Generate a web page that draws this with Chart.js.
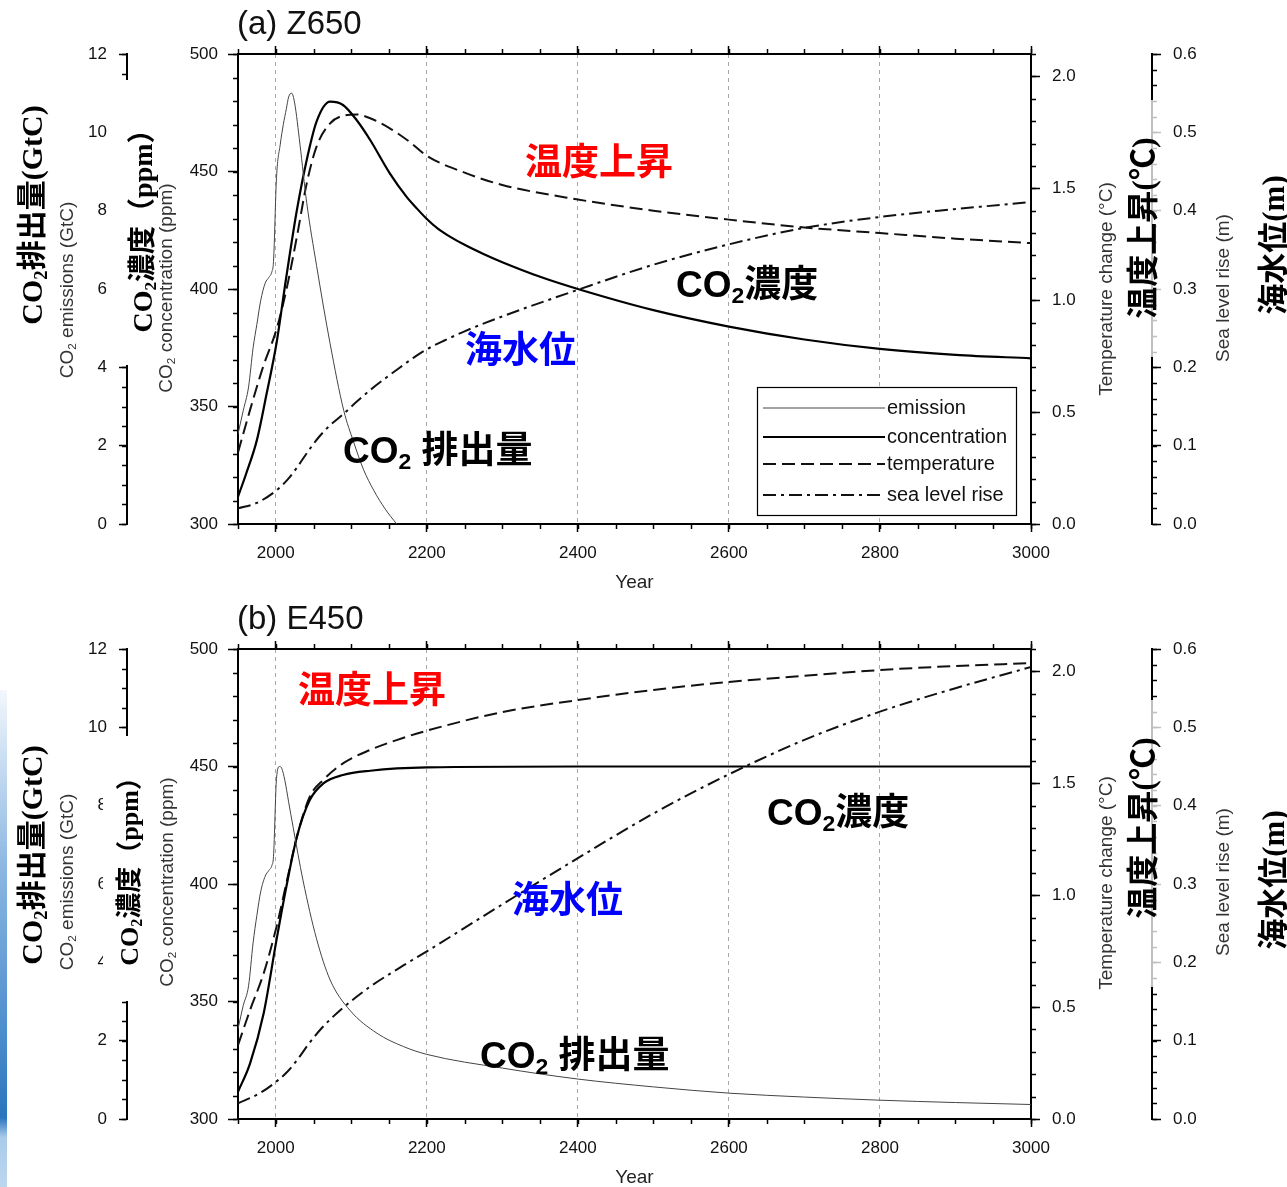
<!DOCTYPE html>
<html lang="ja">
<head>
<meta charset="UTF-8">
<title>Z650 / E450</title>
<script src="https://cdn.jsdelivr.net/npm/chart.js"></script>
<style>
  body { margin: 0; background: #fff; overflow: hidden; font-family: 'Liberation Sans', Arial, sans-serif; }
  #page { position: relative; width: 1287px; height: 1187px; overflow: hidden; }
  canvas { position: absolute; left: 0; }
  .rot { position: absolute; white-space: nowrap; line-height: 1; transform: translate(-50%, -50%) rotate(-90deg); }
  .big { font-family: 'Liberation Serif', 'Noto Sans CJK JP', serif; font-weight: bold; color: #000; }
  .big .g { font-family: 'Noto Sans CJK JP', sans-serif; }
  .small { font-size: 19px; color: #333; }
  .mask { position: absolute; background: #fff; }
  .note { position: absolute; white-space: nowrap; line-height: 1; transform: translateY(-50%);
          font-family: 'Liberation Sans', 'Noto Sans CJK JP', sans-serif; font-weight: bold; font-size: 37px; }
  .title { position: absolute; left: 237px; font-size: 33px; line-height: 1; transform: translateY(-50%); color: #111; }
  sub { font-size: 0.62em; vertical-align: -0.28em; line-height: 0; }
  .strip { position: absolute; left: 0; top: 690px; width: 7px; height: 497px;
           background: linear-gradient(to bottom, rgba(190,215,240,0.2), #8db8e2 35%, #4a8ccc 70%, #2a74bd 86%, #a9cbea 90%, #bcd6ee 100%); }
</style>
</head>
<body>
<div id="page">
  <canvas id="chartA" width="1287" height="595" style="top:0"></canvas>
  <canvas id="chartB" width="1287" height="595" style="top:595px"></canvas>

  <div class="strip"></div>

  <!-- (a) -->
  <div class="title" style="top:22px">(a) Z650</div>
  <div class="mask" style="left:116px;top:80px;width:40px;height:285px"></div>
  <div class="mask" style="left:1124px;top:100px;width:38px;height:257px;background:rgba(255,255,255,0.75)"></div>
  <div class="rot big" style="left:30px;top:215px;font-size:30px">CO<sub>2</sub><span class="g">排出量</span>(GtC)</div>
  <div class="rot small" style="left:66px;top:290px">CO<sub>2</sub> emissions (GtC)</div>
  <div class="rot big" style="left:141px;top:224px;font-size:28px">CO<sub>2</sub><span class="g">濃度（</span>ppm<span class="g">）</span></div>
  <div class="rot small" style="left:165px;top:288px">CO<sub>2</sub> concentration (ppm)</div>
  <div class="rot small" style="left:1105px;top:289px">Temperature change (°C)</div>
  <div class="rot big" style="left:1141px;top:228px;font-size:32px"><span class="g">温度上昇</span>(<span class="g">℃</span>)</div>
  <div class="rot small" style="left:1222px;top:288px">Sea level rise (m)</div>
  <div class="rot big" style="left:1272px;top:245px;font-size:31px"><span class="g">海水位</span>(m)</div>
  <div class="note" style="left:525px;top:162px;color:#f00">温度上昇</div>
  <div class="note" style="left:676px;top:284px">CO<sub>2</sub>濃度</div>
  <div class="note" style="left:465px;top:350px;color:#00f">海水位</div>
  <div class="note" style="left:343px;top:450px">CO<sub>2</sub> 排出量</div>

  <!-- (b) -->
  <div class="title" style="top:617px">(b) E450</div>
  <div class="mask" style="left:103px;top:736px;width:53px;height:265px"></div>
  <div class="mask" style="left:1124px;top:700px;width:38px;height:287px;background:rgba(255,255,255,0.75)"></div>
  <div class="rot big" style="left:30px;top:855px;font-size:30px">CO<sub>2</sub><span class="g">排出量</span>(GtC)</div>
  <div class="rot small" style="left:66px;top:882px">CO<sub>2</sub> emissions (GtC)</div>
  <div class="rot big" style="left:128px;top:865px;font-size:26px">CO<sub>2</sub><span class="g">濃度（</span>ppm<span class="g">）</span></div>
  <div class="rot small" style="left:166px;top:882px">CO<sub>2</sub> concentration (ppm)</div>
  <div class="rot small" style="left:1105px;top:883px">Temperature change (°C)</div>
  <div class="rot big" style="left:1141px;top:828px;font-size:32px"><span class="g">温度上昇</span>(<span class="g">℃</span>)</div>
  <div class="rot small" style="left:1222px;top:882px">Sea level rise (m)</div>
  <div class="rot big" style="left:1272px;top:880px;font-size:31px"><span class="g">海水位</span>(m)</div>
  <div class="note" style="left:298px;top:690px;color:#f00">温度上昇</div>
  <div class="note" style="left:767px;top:812px">CO<sub>2</sub>濃度</div>
  <div class="note" style="left:512px;top:900px;color:#00f">海水位</div>
  <div class="note" style="left:480px;top:1055px">CO<sub>2</sub> 排出量</div>
</div>

<script>
// axis ticks
const yearTicks = [2000, 2200, 2400, 2600, 2800, 3000];
const concTicks = [300, 350, 400, 450, 500];
const emisTicks = [0, 2, 4, 6, 8, 10, 12];
const tempTicks = [0, 0.5, 1.0, 1.5, 2.0];
const seaTicks = [0, 0.1, 0.2, 0.3, 0.4, 0.5, 0.6];

// (a) Z650
const zEmisYear = [1950, 1957, 1964, 1970, 1975, 1980, 1986, 1991, 1995, 1997, 2001, 2006, 2010, 2014, 2017, 2021, 2025, 2032, 2041, 2054, 2072, 2090, 2103, 2116, 2130, 2145, 2160];
const zEmisVal  = [2.3, 2.9, 3.5, 4.5, 5.1, 5.7, 6.15, 6.3, 6.45, 6.7, 8.85, 9.7, 10.2, 10.6, 10.9, 11.0, 10.75, 9.7, 8.2, 6.6, 4.6, 2.9, 2.1, 1.4, 0.85, 0.38, 0.0];
const zConcYear = [1950, 1961, 1975, 1988, 2001, 2014, 2028, 2041, 2054, 2072, 2089, 2107, 2125, 2151, 2173, 2187, 2200, 2215, 2230, 2250, 2275, 2300, 2350, 2400, 2500, 2600, 2700, 2800, 2900, 3000];
const zConcVal  = [311.6, 321.6, 335.7, 355.6, 376.9, 405.2, 433.6, 454.9, 471.2, 479.7, 478.3, 471.9, 463.4, 449.2, 439.3, 434.2, 429.8, 425.6, 422.4, 418.8, 414.9, 411.4, 405.2, 400, 391, 384, 378.5, 374.5, 372, 370.5];
const zTempYear = [1950, 1966, 1983, 2001, 2014, 2028, 2041, 2054, 2072, 2089, 2107, 2125, 2151, 2177, 2200, 2250, 2300, 2400, 2500, 2600, 2700, 2800, 2900, 3000];
const zTempVal  = [0.32, 0.51, 0.70, 0.87, 1.045, 1.284, 1.522, 1.686, 1.79, 1.824, 1.83, 1.813, 1.768, 1.708, 1.645, 1.57, 1.515, 1.45, 1.40, 1.36, 1.325, 1.30, 1.275, 1.255];
const zSeaYear  = [1950, 1975, 2001, 2015, 2028, 2043, 2058, 2073, 2089, 2107, 2125, 2169, 2185, 2200, 2225, 2250, 2300, 2400, 2500, 2600, 2700, 2800, 2900, 3000];
const zSeaVal   = [0.020, 0.027, 0.043, 0.056, 0.072, 0.093, 0.112, 0.127, 0.140, 0.156, 0.171, 0.203, 0.214, 0.223, 0.235, 0.246, 0.265, 0.299, 0.331, 0.357, 0.378, 0.392, 0.402, 0.411];

// (b) E450
const eEmisYear = [1950, 1957, 1964, 1970, 1975, 1980, 1986, 1991, 1995, 1997, 2001, 2005, 2008, 2012, 2017, 2023, 2036, 2054, 2072, 2098, 2134, 2169, 2200, 2300, 2400, 2500, 2600, 2700, 2800, 2900, 3000];
const eEmisVal  = [2.3, 2.9, 3.4, 4.5, 5.2, 5.8, 6.2, 6.35, 6.48, 6.7, 8.7, 9.0, 8.95, 8.65, 8.1, 7.45, 6.1, 4.6, 3.55, 2.78, 2.19, 1.85, 1.65, 1.30, 1.02, 0.82, 0.66, 0.56, 0.48, 0.42, 0.37];
const eConcYear = [1950, 1966, 1984, 2001, 2014, 2028, 2045, 2063, 2089, 2125, 2200, 2400, 2600, 2800, 3000];
const eConcVal  = [311.6, 323.7, 345, 376.2, 398.8, 420.1, 435.7, 442.8, 446.4, 448.2, 449.6, 450, 450, 450, 450];
const eTempYear = [1950, 1966, 1984, 2001, 2014, 2028, 2045, 2063, 2089, 2125, 2160, 2200, 2300, 2400, 2500, 2600, 2700, 2800, 2900, 3000];
const eTempVal  = [0.33, 0.487, 0.651, 0.859, 1.053, 1.261, 1.44, 1.515, 1.589, 1.649, 1.693, 1.735, 1.818, 1.872, 1.917, 1.953, 1.98, 2.006, 2.024, 2.037];
const eSeaYear  = [1950, 1979, 2001, 2015, 2028, 2043, 2058, 2073, 2089, 2107, 2125, 2169, 2200, 2250, 2300, 2400, 2500, 2600, 2700, 2800, 2900, 3000];
const eSeaVal   = [0.020, 0.033, 0.048, 0.060, 0.075, 0.095, 0.113, 0.128, 0.142, 0.156, 0.169, 0.196, 0.214, 0.244, 0.274, 0.333, 0.390, 0.440, 0.484, 0.520, 0.550, 0.577];

const legendNames = ['emission', 'concentration', 'temperature', 'sea level rise'];

Chart.defaults.font.family = "'Liberation Sans', Arial, sans-serif";
Chart.defaults.color = '#111';

const tickFont = { size: 17 };

function pts(xs, ys) {
    return xs.map((x, i) => ({ x: x, y: ys[i] }));
}
function fixW(w) { return s => { s.width = w; }; }
function fixH(h) { return s => { s.height = h; }; }
function setTicks(arr) { return s => { s.ticks = arr.map(v => ({ value: v })); }; }

// 작은 눈금 (minor ticks)
const minorTicks = {
    id: 'minorTicks',
    afterDraw(chart, args, opts) {
        const ctx = chart.ctx;
        ctx.save();
        ctx.strokeStyle = '#000';
        ctx.lineWidth = 1.5;
        for (const id in opts.scales) {
            const s = chart.scales[id];
            const m = opts.scales[id];
            const n = Math.round((s.max - s.min) / m.step);
            for (let i = 0; i <= n; i++) {
                const p = Math.round(s.getPixelForValue(s.min + i * m.step)) + 0.5;
                ctx.beginPath();
                if (s.position === 'left') { ctx.moveTo(s.right, p); ctx.lineTo(s.right - m.len, p); }
                else if (s.position === 'right') { ctx.moveTo(s.left, p); ctx.lineTo(s.left + m.len, p); }
                else if (s.position === 'bottom') { ctx.moveTo(p, s.top); ctx.lineTo(p, s.top + m.len); }
                else { ctx.moveTo(p, s.bottom); ctx.lineTo(p, s.bottom - m.len); }
                ctx.stroke();
            }
        }
        ctx.restore();
    }
};

// 범례 상자
const boxLegend = {
    id: 'boxLegend',
    afterDatasetsDraw(chart, args, opts) {
        if (!opts.show) return;
        const ctx = chart.ctx;
        const a = chart.chartArea;
        const x0 = a.left + 519, y0 = a.top + 333;
        ctx.save();
        ctx.fillStyle = '#fff';
        ctx.fillRect(x0, y0, 259, 128);
        ctx.strokeStyle = '#000';
        ctx.lineWidth = 1.2;
        ctx.strokeRect(x0 + 0.5, y0 + 0.5, 259, 128);
        const rows = [21, 50, 77, 108];
        ctx.font = "20px 'Liberation Sans', Arial, sans-serif";
        ctx.textBaseline = 'middle';
        chart.data.datasets.forEach((ds, i) => {
            const y = y0 + rows[i];
            ctx.strokeStyle = ds.borderColor;
            ctx.lineWidth = ds.borderWidth;
            ctx.setLineDash(ds.borderDash || []);
            ctx.beginPath();
            ctx.moveTo(x0 + 6, y);
            ctx.lineTo(x0 + 128, y);
            ctx.stroke();
            ctx.setLineDash([]);
            ctx.fillStyle = '#111';
            ctx.fillText(legendNames[i], x0 + 130, y);
        });
        ctx.restore();
    }
};

function axisY(pos, min, max, weight, width, ticks, len, pad, fmt) {
    return {
        type: 'linear', position: pos, min: min, max: max, weight: weight,
        afterBuildTicks: setTicks(ticks), afterFit: fixW(width),
        ticks: { font: tickFont, color: '#111', padding: pad, callback: fmt },
        grid: { drawOnChartArea: false, tickLength: len, tickColor: '#000', tickWidth: 1.5 },
        border: { color: '#000', width: 2 }
    };
}

function makePanel(id, s, showLegend) {
    const line = { pointRadius: 0, fill: false, cubicInterpolationMode: 'monotone', xAxisID: 'x' };
    new Chart(document.getElementById(id), {
        type: 'line',
        data: {
            datasets: [
                Object.assign({}, line, { label: 'emission', data: pts(s.emisYear, s.emisVal), yAxisID: 'emis', borderColor: '#444', borderWidth: 1 }),
                Object.assign({}, line, { label: 'concentration', data: pts(s.concYear, s.concVal), yAxisID: 'conc', borderColor: '#000', borderWidth: 2.2 }),
                Object.assign({}, line, { label: 'temperature', data: pts(s.tempYear, s.tempVal), yAxisID: 'temp', borderColor: '#111', borderWidth: 2, borderDash: [13, 6] }),
                Object.assign({}, line, { label: 'sea level rise', data: pts(s.seaYear, s.seaVal), yAxisID: 'sea', borderColor: '#111', borderWidth: 2, borderDash: [13, 5, 3, 5] })
            ]
        },
        options: {
            responsive: false,
            animation: false,
            events: [],
            layout: { padding: 0 },
            scales: {
                x: {
                    type: 'linear', position: 'bottom', min: 1950, max: 3000,
                    afterBuildTicks: setTicks(yearTicks), afterFit: fixH(71),
                    ticks: { font: tickFont, color: '#111', padding: 11, maxRotation: 0, autoSkip: false, callback: v => String(v) },
                    grid: {
                        color: c => (c.tick && c.tick.value < 3000) ? '#a8a8a8' : 'rgba(0,0,0,0)',
                        lineWidth: 1, tickColor: '#000', tickLength: 8, tickWidth: 1.5
                    },
                    border: { color: '#000', width: 2, dash: [4, 4] },
                    title: { display: true, text: 'Year', font: { size: 19 }, color: '#222', padding: { top: 2, bottom: 1 } }
                },
                xTop: {
                    type: 'linear', position: 'top', min: 1950, max: 3000,
                    afterBuildTicks: setTicks(yearTicks), afterFit: fixH(54),
                    ticks: { display: false },
                    grid: { drawOnChartArea: false, tickLength: 8, tickColor: '#000', tickWidth: 1.5 },
                    border: { color: '#000', width: 2 }
                },
                conc: axisY('left', 300, 500, 0, 111, concTicks, 10, 10, v => String(v)),
                emis: axisY('left', 0, 12, 10, 127, emisTicks, 8, 12, v => String(v)),
                temp: axisY('right', 0, 2.1, 0, 121, tempTicks, 9, 12, v => v.toFixed(1)),
                sea: axisY('right', 0, 0.6, 10, 135, seaTicks, 9, 12, v => v.toFixed(1))
            },
            plugins: {
                legend: { display: false },
                tooltip: { enabled: false },
                boxLegend: { show: showLegend },
                minorTicks: {
                    scales: {
                        x: { step: 50, len: 5 },
                        xTop: { step: 50, len: 5 },
                        conc: { step: 10, len: 5 },
                        emis: { step: 0.5, len: 5 },
                        temp: { step: 0.1, len: 5 },
                        sea: { step: 0.02, len: 5 }
                    }
                }
            }
        },
        plugins: [minorTicks, boxLegend]
    });
}

makePanel('chartA', {
    emisYear: zEmisYear, emisVal: zEmisVal, concYear: zConcYear, concVal: zConcVal,
    tempYear: zTempYear, tempVal: zTempVal, seaYear: zSeaYear, seaVal: zSeaVal
}, true);

makePanel('chartB', {
    emisYear: eEmisYear, emisVal: eEmisVal, concYear: eConcYear, concVal: eConcVal,
    tempYear: eTempYear, tempVal: eTempVal, seaYear: eSeaYear, seaVal: eSeaVal
}, false);
</script>
</body>
</html>
